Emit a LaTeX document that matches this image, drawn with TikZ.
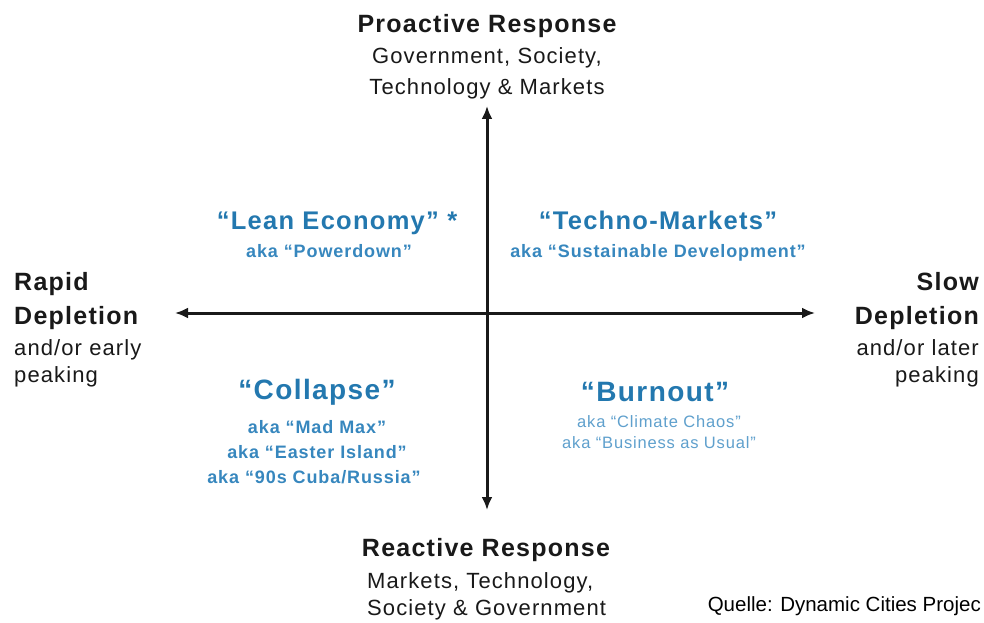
\documentclass[tikz,border=0pt]{standalone}
\usepackage{fontspec}
\setmainfont{Liberation Sans}[LetterSpace=5]
\newfontfamily\plainfont{Liberation Sans}
\usetikzlibrary{arrows.meta}

\definecolor{scenblue}{RGB}{35,120,175}
\definecolor{akablue}{RGB}{55,135,190}
\definecolor{lightaka}{RGB}{95,160,205}
\definecolor{axisgray}{RGB}{25,25,25}

\tikzset{
  axislabel/.style={font=\fontsize{25}{28}\selectfont\bfseries, text=axisgray, inner sep=0pt, anchor=base},
  axissub/.style={font=\fontsize{22}{25}\selectfont, text=axisgray, inner sep=0pt, anchor=base},
  scenario/.style={font=\fontsize{25.5}{28}\selectfont\bfseries, text=scenblue, inner sep=0pt, anchor=base},
  bigscenario/.style={scenario, font=\fontsize{28}{30}\selectfont\bfseries},
  aka/.style={font=\fontsize{18}{20}\selectfont\bfseries, text=akablue, inner sep=0pt, anchor=base},
  softaka/.style={font=\fontsize{16.5}{18}\selectfont, text=lightaka, inner sep=0pt, anchor=base},
  axis/.style={line width=3pt, axisgray, {Latex[length=13pt,width=11pt]}-{Latex[length=13pt,width=11pt]}},
}

\begin{document}
\begin{tikzpicture}[x=1pt, y=-1pt]
  \useasboundingbox (0,0) rectangle (984,623);
  \fill[white] (0,0) rectangle (984,623);

  % the two axes
  \coordinate (north) at (487,106);
  \coordinate (south) at (487,510);
  \coordinate (west) at (175,313);
  \coordinate (east) at (815,313);
  \draw[axis] (south) -- (north);
  \draw[axis] (west) -- (east);

  % top and bottom ends
  \node[axislabel] (pro) at (487,33) {Proactive Response};
  \node[axissub] (pro1) at (487,64) {Government, Society,};
  \node[axissub] (pro2) at (487,95) {Technology \& Markets};
  \node[axislabel] (re) at (486,556) {Reactive Response};
  \node[axissub, anchor=base west] (re1) at (367,588) {Markets, Technology,};
  \node[axissub, anchor=base west] (re2) at (367,615) {Society \& Government};

  % left and right ends
  \node[axislabel, anchor=base west] (rapid) at (14,290) {Rapid};
  \node[axislabel, anchor=base west] (rapid1) at (14,324) {Depletion};
  \node[axissub, anchor=base west] (rapid2) at (14,355) {and/or early};
  \node[axissub, anchor=base west] (rapid3) at (14,382) {peaking};
  \node[axislabel, anchor=base east] (slow) at (979,290) {Slow};
  \node[axislabel, anchor=base east] (slow1) at (979,324) {Depletion};
  \node[axissub, anchor=base east] (slow2) at (979,355) {and/or later};
  \node[axissub, anchor=base east] (slow3) at (979,382) {peaking};

  % the four scenarios
  \node[scenario] (lean) at (337,229) {“Lean Economy” *};
  \node[aka] (lean1) at (329,257) {aka “Powerdown”};
  \node[scenario] (techno) at (658,229) {“Techno-Markets”};
  \node[aka] (techno1) at (658,257) {aka “Sustainable Development”};
  \node[bigscenario] (collapse) at (317,399) {“Collapse”};
  \node[aka] (collapse1) at (317,433) {aka “Mad Max”};
  \node[aka] (collapse2) at (317,458) {aka “Easter Island”};
  \node[aka] (collapse3) at (314,483) {aka “90s Cuba/Russia”};
  \node[bigscenario] (burn) at (655,401) {“Burnout”};
  \node[softaka] (burn1) at (659,427) {aka “Climate Chaos”};
  \node[softaka] (burn2) at (659,448) {aka “Business as Usual”};

  \node[font=\plainfont\fontsize{20.5}{24}\selectfont, anchor=base east, inner sep=0pt] (src) at (981,611) {Quelle: Dynamic Cities Projec};
\end{tikzpicture}
\end{document}
